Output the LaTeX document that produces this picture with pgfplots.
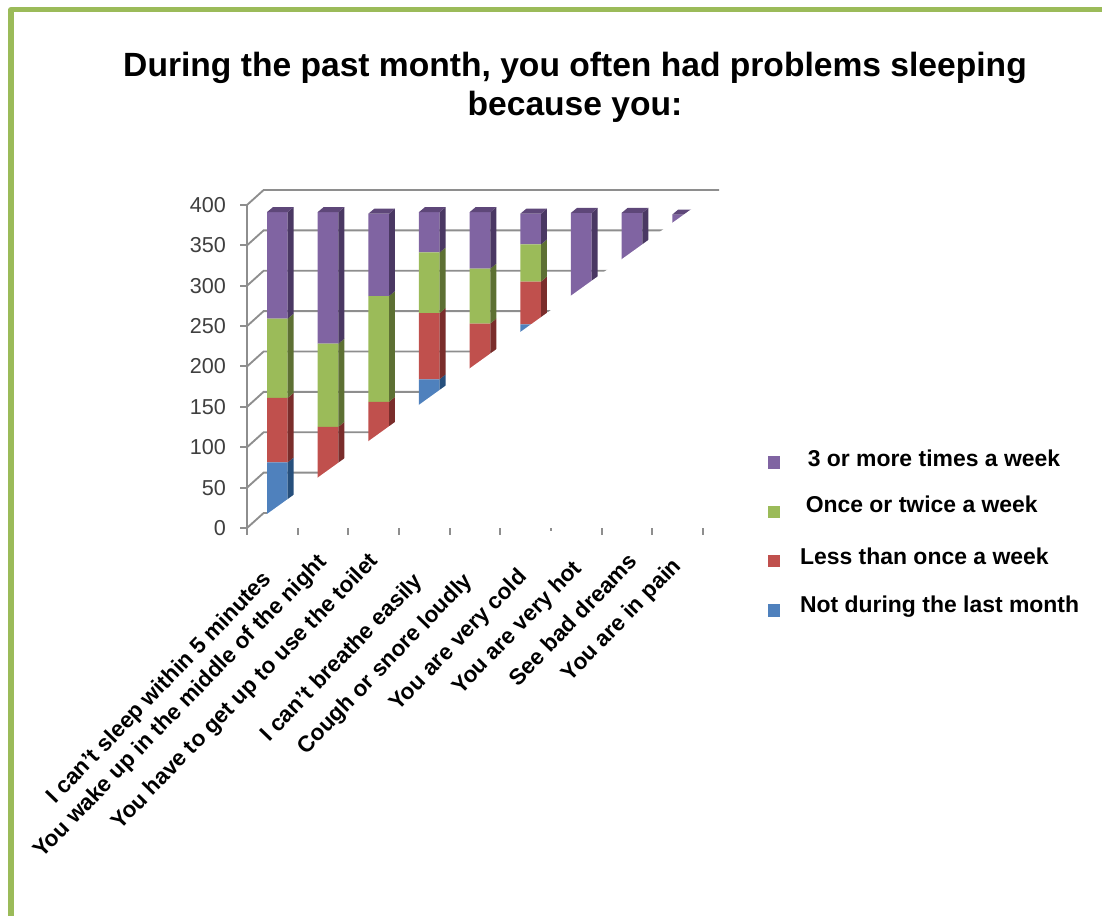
\documentclass[border=0pt]{standalone}
\usepackage{pgfplots}
\usepackage{pgfplotstable}
\usepackage{fontspec}
\setmainfont{Liberation Sans}
\pgfplotsset{compat=1.18}

% Survey counts per category (stack order: blue, red, green, purple)
\pgfplotstableread{
x blue red green purple
0 75 80 98 132
1 0 119 103 163
2 0 150 131 102
3 178 82 75 50
4 0 247 68 70
5 246 53 46 38
6 0 0 0 384
7 0 0 0 384
8 0 0 0 382
}\sleeptable

\definecolor{cpurple}{HTML}{8064A2}
\definecolor{cgreen}{HTML}{9BBB59}
\definecolor{cred}{HTML}{C0504D}
\definecolor{cblue}{HTML}{4F81BD}
\definecolor{dpurple}{HTML}{4A3863}
\definecolor{tpurple}{HTML}{5E4779}
\definecolor{dgreen}{HTML}{5D7033}
\definecolor{dred}{HTML}{7A2D2B}
\definecolor{dblue}{HTML}{264F7C}
\definecolor{gridgray}{HTML}{8E8E8E}
\definecolor{ticktext}{HTML}{3F3F3F}

\def\hw{0.204}    % half of a bar's front width, in category units
\def\dpx{0.118}   % horizontal depth of a bar, in category units
\def\rise{6.2}    % vertical depth of a bar, in value units

\newcommand{\sideface}[4]{%
  \pgfmathsetmacro\xa{#1+\hw}\pgfmathsetmacro\xb{\xa+\dpx}%
  \pgfmathsetmacro\ya{#2+\rise}\pgfmathsetmacro\yb{#3+\rise}%
  \edef\tmp{\noexpand\addplot[fill=#4,draw=none,forget plot] coordinates
    {(\xa,#2) (\xb,\ya) (\xb,\yb) (\xa,#3)} -- cycle;}\tmp}
\newcommand{\topface}[3]{%
  \pgfmathsetmacro\xa{#1-\hw}\pgfmathsetmacro\xb{#1+\hw}%
  \pgfmathsetmacro\xc{\xb+\dpx}\pgfmathsetmacro\xd{\xa+\dpx}%
  \pgfmathsetmacro\ya{#2+\rise}%
  \edef\tmp{\noexpand\addplot[fill=#3,draw=none,forget plot] coordinates
    {(\xa,#2) (\xb,#2) (\xc,\ya) (\xd,\ya)} -- cycle;}\tmp}

% Category label with a nudge along and across its baseline
\newcommand{\catlabel}[3]{\smash{\raisebox{#2pt}{#3\hspace*{#1pt}}}}
% Legend entry with its own indent and raise
\newcommand{\legentry}[3]{\hspace*{#1pt}\raisebox{#2pt}[6pt][0pt]{#3}}

\pgfplotsset{
  common/.style={
    scale only axis, width=342pt, height=242.25pt,
    ymin=0, ymax=400, clip=false,
  },
}

\begin{document}
\begin{tikzpicture}[x=0.75pt,y=0.75pt]
\path[use as bounding box] (0,0) rectangle (1102,916);

% Slide frame
\draw[cgreen,line width=3.9pt,line join=round] (11,0) -- (11,906.5) -- (1102,906.5);

% Title
\node[align=center,font=\fontsize{25.2pt}{29.25pt}\selectfont\bfseries] at (575,828.5)
  {During the past month, you often had problems sleeping\\because you:};

% Value axis, floor ticks and back wall
\begin{axis}[common, name=frame, anchor=south west, at={(185.25pt,291pt)},
  xmin=0, xmax=9,
  axis y line*=left, axis x line*=bottom,
  x axis line style={draw=none}, y axis line style={gridgray,line width=1.5pt,-},
  tick align=outside, major tick length=5.25pt,
  tick style={gridgray,line width=1.5pt},
  ytick={0,50,...,400},
  xtick={0,1,2,3,4,5,7,8,9}, xticklabels={},
  extra x ticks={6}, extra x tick labels={},
  extra x tick style={major tick length=2pt},
  /pgf/number format/assume math mode=true,
  yticklabel style={font=\fontsize{16.2pt}{18pt}\selectfont,text=ticktext,xshift=-7pt},
]
\pgfplotsinvokeforeach{0,50,...,400}{
  \draw[gridgray,line width=1.4pt] (axis cs:0,#1) -- ++(12.5pt,11.25pt) -- ++(341.5pt,0pt);
}
\end{axis}

% Front faces of the stacked bars, category labels and legend
\begin{axis}[common, anchor=south west, at={(189pt,294.75pt)},
  xmin=-0.5, xmax=8.5,
  ybar stacked, bar width=15.5pt,
  axis line style={draw=none}, tick style={draw=none},
  ytick=\empty, xtick={0,...,8},
  xticklabels={
    {\catlabel{33.3}{2.8}{I can't sleep within 5 minutes}},
    {\catlabel{22}{9.2}{You wake up in the middle of the night}},
    {\catlabel{20.9}{9.2}{You have to get up to use the toilet}},
    {\catlabel{35}{2.1}{I can't breathe easily}},
    {\catlabel{35.4}{2.8}{Cough or snore loudly}},
    {\catlabel{30.8}{3}{You are very cold}},
    {\catlabel{24.3}{5}{You are very hot}},
    {\catlabel{17.9}{5.9}{See bad dreams}},
    {\catlabel{24.2}{7.2}{You are in pain}}},
  xticklabel style={rotate=46, anchor=base east, inner sep=0pt,
    font=\fontsize{16.9pt}{18pt}\selectfont\bfseries, yshift=-30pt},
  reverse legend,
  legend cell align=left,
  legend style={draw=none, fill=none, anchor=north west,
    font=\fontsize{17.2pt}{18pt}\selectfont\bfseries, row sep=25.5pt,
    at={(1.122,0.22)}},
  legend image code/.code={\path[#1] (0pt,-4.6pt) rectangle (9.4pt,4.6pt);},
]
\addplot[fill=cblue,draw=none] table[x=x,y=blue]{\sleeptable};
\addplot[fill=cred,draw=none] table[x=x,y=red]{\sleeptable};
\addplot[fill=cgreen,draw=none] table[x=x,y=green]{\sleeptable};
\addplot[fill=cpurple,draw=none] table[x=x,y=purple]{\sleeptable};
\addlegendentry{\legentry{12.75}{0.5}{Not during the last month}}
\addlegendentry{\legentry{12.75}{0}{Less than once a week}}
\addlegendentry{\legentry{17}{2}{Once or twice a week}}
\addlegendentry{\legentry{18.5}{-0.5}{3 or more times a week}}
\end{axis}

% Side and top faces of the bars, then the white cover along the diagonal
\begin{axis}[common, anchor=south west, at={(189pt,294.75pt)},
  xmin=-0.5, xmax=8.5, hide axis]
\pgfplotsforeachungrouped \i in {0,...,8}{%
  \pgfplotstablegetelem{\i}{blue}\of\sleeptable\pgfmathsetmacro\tb{\pgfplotsretval}%
  \pgfplotstablegetelem{\i}{red}\of\sleeptable\pgfmathsetmacro\tc{\tb+\pgfplotsretval}%
  \pgfplotstablegetelem{\i}{green}\of\sleeptable\pgfmathsetmacro\td{\tc+\pgfplotsretval}%
  \pgfplotstablegetelem{\i}{purple}\of\sleeptable\pgfmathsetmacro\te{\td+\pgfplotsretval}%
  \sideface{\i}{0}{\tb}{dblue}%
  \sideface{\i}{\tb}{\tc}{dred}%
  \sideface{\i}{\tc}{\td}{dgreen}%
  \sideface{\i}{\td}{\te}{dpurple}%
  \topface{\i}{\te}{tpurple}%
}
\fill[white] (axis cs:-0.296,6.9) -- (axis cs:8.644,409.9) -- (axis cs:8.86,409.9) -- (axis cs:8.86,-3.7) -- (axis cs:-0.296,-3.7) -- cycle;
\end{axis}
\end{tikzpicture}
\end{document}
